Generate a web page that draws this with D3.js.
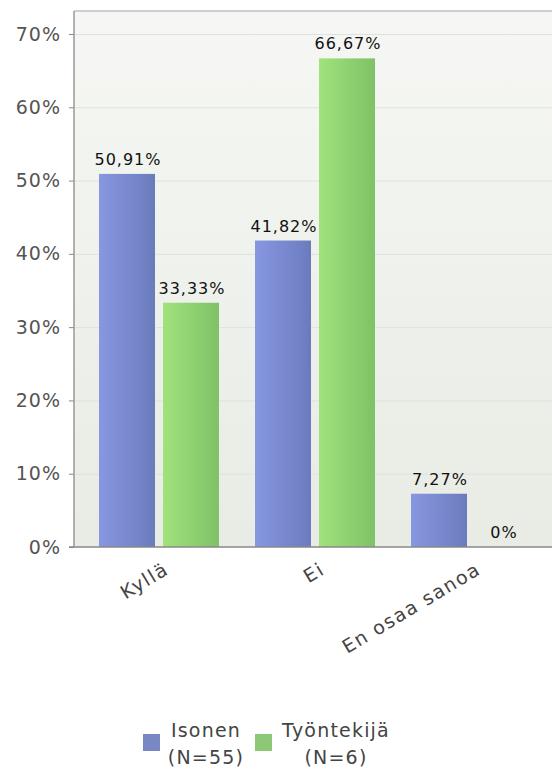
<!DOCTYPE html>
<html>
<head>
<meta charset="utf-8">
<script src="https://cdn.jsdelivr.net/npm/d3@7"></script>
<style>
  body { margin: 0; background: #fff; }
  svg { display: block; font-family: "DejaVu Sans", Verdana, sans-serif; }
</style>
</head>
<body>
<div class="chart"></div>
<script>
const categories = ['Kyllä', 'Ei', 'En osaa sanoa'];
const seriesNames = ['Isonen', 'Työntekijä'];
const seriesN = ['(N=55)', '(N=6)'];
const isonen = [50.91, 41.82, 7.27];
const tyontekija = [33.33, 66.67, 0];
const valueLabels = [['50,91%', '41,82%', '7,27%'], ['33,33%', '66,67%', '0%']];
const yTicks = [0, 10, 20, 30, 40, 50, 60, 70];

const width = 552, height = 771;
const plot = { left: 74, top: 11, right: 552, bottom: 547 };

const svg = d3.select('.chart').append('svg')
  .attr('width', width)
  .attr('height', height);

const defs = svg.append('defs');
const bg = defs.append('linearGradient').attr('id', 'bg').attr('x1', 0).attr('x2', 0).attr('y1', 0).attr('y2', 1);
bg.append('stop').attr('offset', '0%').attr('stop-color', '#f6f7f4');
bg.append('stop').attr('offset', '100%').attr('stop-color', '#e8ece4');

const colors = [['#8798e2', '#6a7bbd'], ['#a0e27c', '#7fc267']];
colors.forEach((c, i) => {
  const g = defs.append('linearGradient').attr('id', 'bar' + i).attr('x1', 0).attr('x2', 1).attr('y1', 0).attr('y2', 0);
  g.append('stop').attr('offset', '0%').attr('stop-color', c[0]);
  g.append('stop').attr('offset', '100%').attr('stop-color', c[1]);
});

const y = d3.scaleLinear().domain([0, 70]).range([547, 34]);

const x0 = d3.scaleBand().domain(categories).range([81, 81 + 156 * 3]).padding(0);
const x1 = d3.scaleBand().domain([0, 1]).range([18, 138]).paddingInner(8 / 64);

// background
svg.append('rect')
  .attr('x', plot.left).attr('y', plot.top)
  .attr('width', plot.right - plot.left).attr('height', plot.bottom - plot.top)
  .attr('fill', 'url(#bg)');
svg.append('line')
  .attr('x1', plot.left).attr('x2', plot.right)
  .attr('y1', plot.top).attr('y2', plot.top)
  .attr('stroke', '#cfcfcf').attr('stroke-width', 2);

// grid
svg.append('g').selectAll('line').data(yTicks.slice(1)).enter().append('line')
  .attr('x1', plot.left).attr('x2', plot.right)
  .attr('y1', d => y(d) + 0.5).attr('y2', d => y(d) + 0.5)
  .attr('stroke', '#dfe1dd');

// bars
const data = [isonen, tyontekija];
const groups = svg.append('g').selectAll('g').data(categories).enter().append('g')
  .attr('transform', d => `translate(${x0(d)},0)`);

groups.selectAll('rect')
  .data((d, ci) => data.map((s, si) => ({ v: s[ci], si, label: valueLabels[si][ci] })))
  .enter().append('rect')
  .attr('x', d => x1(d.si))
  .attr('width', x1.bandwidth())
  .attr('y', d => y(d.v))
  .attr('height', d => y(0) - y(d.v))
  .attr('fill', d => `url(#bar${d.si})`);

groups.selectAll('text')
  .data((d, ci) => data.map((s, si) => ({ v: s[ci], si, label: valueLabels[si][ci] })))
  .enter().append('text')
  .attr('x', d => x1(d.si) + x1.bandwidth() / 2 + 1)
  .attr('y', d => y(d.v) - 9)
  .attr('text-anchor', 'middle')
  .attr('font-size', 16)
  .attr('letter-spacing', 1)
  .attr('fill', '#111')
  .text(d => d.label);

// y axis
const yAxis = d3.axisLeft(y).tickValues(yTicks).tickFormat(d => d + '%').tickSize(5).tickPadding(8);
const ya = svg.append('g').attr('transform', `translate(${plot.left},0)`).call(yAxis);
ya.select('.domain').remove();
ya.selectAll('.tick line').attr('stroke', '#888');
ya.selectAll('.tick text').attr('font-size', 19).attr('fill', '#555')
  .attr('letter-spacing', 1)
  .attr('font-family', '"DejaVu Sans", sans-serif');
svg.append('line')
  .attr('x1', plot.left).attr('x2', plot.left)
  .attr('y1', plot.top).attr('y2', plot.bottom)
  .attr('stroke', '#999').attr('stroke-width', 1.5);
svg.append('line')
  .attr('x1', plot.left - 5).attr('x2', plot.right)
  .attr('y1', plot.bottom).attr('y2', plot.bottom)
  .attr('stroke', '#888').attr('stroke-width', 1.5);

// x labels
svg.append('g').selectAll('text').data(categories).enter().append('text')
  .attr('transform', d => `translate(${x0(d) + x0.bandwidth() / 2 + 11},${plot.bottom + 26}) rotate(-31)`)
  .attr('text-anchor', 'end')
  .attr('font-size', 19)
  .attr('letter-spacing', 1.5)
  .attr('fill', '#444')
  .text(d => d);

// legend
const legendX = [143, 255];
const legendMid = [63, 81];
const legend = svg.append('g').selectAll('g').data(seriesNames).enter().append('g')
  .attr('transform', (d, i) => `translate(${legendX[i]},0)`);
legend.append('rect')
  .attr('x', 0).attr('y', 734).attr('width', 17).attr('height', 17)
  .attr('fill', (d, i) => colors[i][1]).attr('opacity', 0.9);
legend.append('text')
  .attr('x', (d, i) => legendMid[i]).attr('y', 737)
  .attr('text-anchor', 'middle')
  .attr('font-size', 19).attr('letter-spacing', 1.2).attr('fill', '#444')
  .text(d => d);
legend.append('text')
  .attr('x', (d, i) => legendMid[i]).attr('y', 764)
  .attr('text-anchor', 'middle')
  .attr('font-size', 19).attr('letter-spacing', 1.2).attr('fill', '#444')
  .text((d, i) => seriesN[i]);
</script>
</body>
</html>
